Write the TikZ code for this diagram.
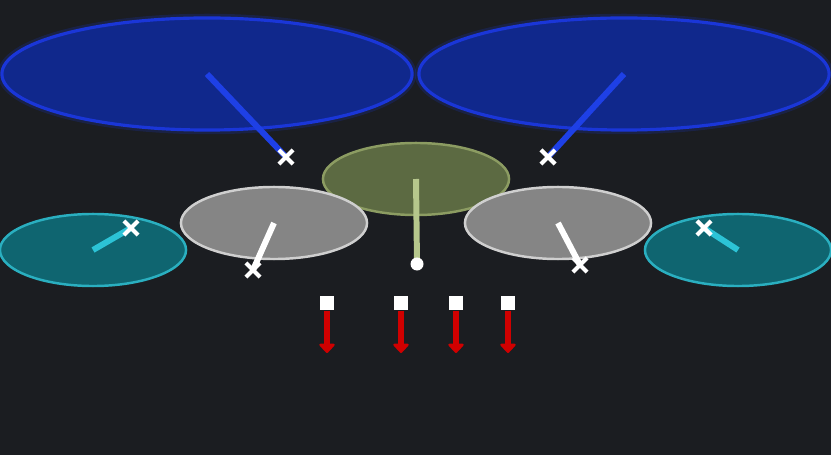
\documentclass[tikz,border=0pt]{standalone}
\usepackage{xcolor}
\usetikzlibrary{shapes.geometric,shapes.misc,arrows.meta}

\definecolor{bgdark}{HTML}{1B1D21}
\definecolor{bluefill}{HTML}{10288C}
\definecolor{blueedge}{HTML}{1A36D8}
\definecolor{bluestick}{HTML}{1E40E6}
\definecolor{olivefill}{HTML}{5C6A42}
\definecolor{oliveedge}{HTML}{8C9C62}
\definecolor{oliveline}{HTML}{B6C78C}
\definecolor{grayfill}{HTML}{858585}
\definecolor{grayedge}{HTML}{CFCFCF}
\definecolor{tealfill}{HTML}{0F6570}
\definecolor{tealedge}{HTML}{2AAFC0}
\definecolor{tealline}{HTML}{2CC3D6}
\definecolor{redline}{HTML}{D00000}

\tikzset{
  pad/.style={ellipse, draw, line width=0.7pt, inner sep=0pt},
  bigpad/.style={pad, minimum width=4.1cm, minimum height=1.12cm,
    fill=bluefill, draw=blueedge, line width=0.9pt,
    preaction={draw=blueedge, opacity=0.2, line width=2.4pt}},
  midpad/.style={pad, minimum width=1.86cm, minimum height=0.72cm},
  stick/.style={line width=1.7pt},
  xmark/.style={cross out, draw=white, line width=1.2pt, minimum size=0.1cm, inner sep=0pt},
  valve/.style={rectangle, fill=white, minimum size=0.14cm, inner sep=0pt},
  drop/.style={redline, line width=1.7pt, -{Triangle[width=0.18cm,length=0.1cm,round]}}
}

\begin{document}
\begin{tikzpicture}[x=0.01cm, y=-0.01cm]
  % background
  \fill[bgdark] (0,0) rectangle (831,455);
  \useasboundingbox (0,0) rectangle (831,455);

  % blue pads on top
  \node[bigpad] (blueL) at (207,74) {};
  \node[bigpad] (blueR) at (624,74) {};
  \coordinate (blueLend) at (286,157);
  \coordinate (blueRend) at (548,157);
  \draw[stick, bluestick] (blueL.center) -- (blueLend);
  \draw[stick, bluestick] (blueR.center) -- (blueRend);
  \node[xmark] at (blueLend) {};
  \node[xmark] at (blueRend) {};

  % olive pad in the middle
  \node[midpad, fill=olivefill, draw=oliveedge] (olive) at (416,179) {};
  \coordinate (oliveend) at (417,264);
  \draw[stick, oliveline] (olive.center) -- (oliveend);
  \node[circle, fill=white, minimum size=0.13cm, inner sep=0pt] (dot) at (oliveend) {};

  % gray pads
  \node[midpad, fill=grayfill, draw=grayedge] (grayL) at (274,223) {};
  \node[midpad, fill=grayfill, draw=grayedge] (grayR) at (558,223) {};
  \coordinate (grayLend) at (253,270);
  \coordinate (grayRend) at (580,265);
  \draw[stick, white] (grayL.center) -- (grayLend);
  \draw[stick, white] (grayR.center) -- (grayRend);
  \node[xmark] at (grayLend) {};
  \node[xmark] at (grayRend) {};

  % teal pads at the sides
  \node[midpad, fill=tealfill, draw=tealedge] (tealL) at (93,250) {};
  \node[midpad, fill=tealfill, draw=tealedge] (tealR) at (738,250) {};
  \coordinate (tealLend) at (131,228);
  \coordinate (tealRend) at (704,228);
  \draw[stick, tealline] (tealL.center) -- (tealLend);
  \draw[stick, tealline] (tealR.center) -- (tealRend);
  \node[xmark] at (tealLend) {};
  \node[xmark] at (tealRend) {};

  % valves with red drops
  \foreach \vx/\vn in {327/a, 401/b, 456/c, 508/d} {
    \node[valve] (valve\vn) at (\vx,303) {};
    \coordinate (drop\vn) at (\vx,353);
    \draw[drop] (valve\vn.south) -- (drop\vn);
  }
\end{tikzpicture}
\end{document}
